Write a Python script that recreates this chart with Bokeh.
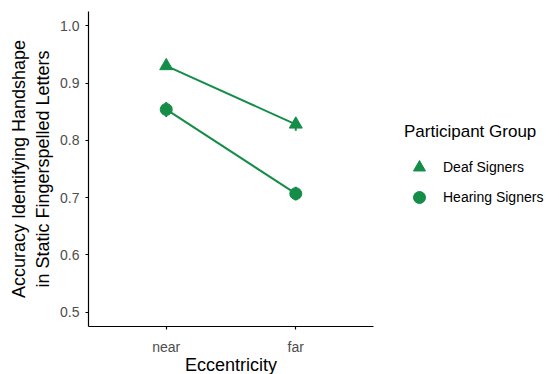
from bokeh.plotting import figure
from bokeh.models import ColumnDataSource, FixedTicker, Range1d, Legend, LegendItem
from bokeh.embed import file_html
from bokeh.resources import INLINE

# ---- data ----
categories = ["near", "far"]
cat_pos = [1, 2]
groups = ["Deaf Signers", "Hearing Signers"]
group_markers = ["triangle", "circle"]
deaf_acc = [0.930, 0.828]
deaf_se = [0.005, 0.011]
hearing_acc = [0.854, 0.707]
hearing_se = [0.013, 0.012]
y_ticks = [0.5, 0.6, 0.7, 0.8, 0.9, 1.0]
legend_title = "Participant Group"

GREEN = "#138D47"
FONT = "Liberation Sans"

p = figure(frame_width=285, frame_height=315, output_backend="svg", toolbar_location=None,
           x_range=Range1d(0.4, 2.6), y_range=Range1d(0.475, 1.025),
           min_border_left=88, min_border_right=186, min_border_top=11,
           min_border_bottom=48)
p.background_fill_color = "white"
p.border_fill_color = "white"
p.outline_line_color = None
p.grid.visible = False


def add_series(acc, se, marker, size):
    lo = [a - s for a, s in zip(acc, se)]
    hi = [a + s for a, s in zip(acc, se)]
    src = ColumnDataSource(dict(x=cat_pos, y=acc, lo=lo, hi=hi))
    p.line("x", "y", source=src, line_color=GREEN, line_width=2)
    # error bars: zero-width bars whose outline is the whisker
    bars = p.vbar(x="x", width=0, bottom="lo", top="hi", source=src,
                  fill_color=GREEN, line_color=GREEN, line_width=2)
    pts = p.scatter("x", "y", source=src, marker=marker, size=size,
                    fill_color=GREEN, line_color=GREEN)
    return bars, pts


b_deaf, r_deaf = add_series(deaf_acc, deaf_se, group_markers[0], 13)
b_hear, r_hear = add_series(hearing_acc, hearing_se, group_markers[1], 12)

common = dict(border_line_color=None, background_fill_color=None,
              padding=0, margin=0, spacing=0, glyph_height=30, label_height=30,
              title_standoff=10, title_text_font=FONT, title_text_font_size="17px",
              title_text_font_style="normal", title_text_color="black",
              label_text_font=FONT, label_text_font_size="14px", label_text_color="black")

# key: markers, labels and title
legend = Legend(items=[LegendItem(label=groups[0], renderers=[r_deaf]),
                       LegendItem(label=groups[1], renderers=[r_hear])],
                title=legend_title, location=(31, 114),
                glyph_width=30, label_standoff=9, **common)
p.add_layout(legend, "right")

# key overlay: the vertical error-bar strokes through the key markers
legend_bars = Legend(items=[LegendItem(label=" ", renderers=[b_deaf]),
                            LegendItem(label=" ", renderers=[b_hear])],
                     title=" ", location=(330, 114), glyph_width=1, label_standoff=0,
                     **common)
p.add_layout(legend_bars)

p.xaxis.ticker = FixedTicker(ticks=cat_pos)
p.xaxis.major_label_overrides = {k: v for k, v in zip(cat_pos, categories)}
p.yaxis.ticker = FixedTicker(ticks=y_ticks)
p.yaxis.major_label_overrides = {t: f"{t:.1f}" for t in y_ticks}
p.xaxis.axis_label = "Eccentricity"
p.yaxis.axis_label = "Accuracy Identifying Handshape\nin Static Fingerspelled Letters"

for ax in (p.xaxis, p.yaxis):
    ax.axis_line_color = "black"
    ax.axis_line_width = 1.2
    ax.major_tick_line_color = "black"
    ax.major_tick_line_width = 1.2
    ax.major_tick_out = 3
    ax.major_tick_in = 0
    ax.minor_tick_line_color = None
    ax.major_label_text_font = FONT
    ax.major_label_text_font_size = "14px"
    ax.major_label_text_color = "#4D4D4D"
    ax.axis_label_text_font = FONT
    ax.axis_label_text_font_size = "18px"
    ax.axis_label_text_font_style = "normal"
    ax.axis_label_text_color = "black"
p.xaxis.major_label_standoff = 9
p.xaxis.axis_label_standoff = -3
p.yaxis.major_label_standoff = 6
p.yaxis.axis_label_standoff = 4

open("out.html", "w").write(file_html(p, INLINE))
